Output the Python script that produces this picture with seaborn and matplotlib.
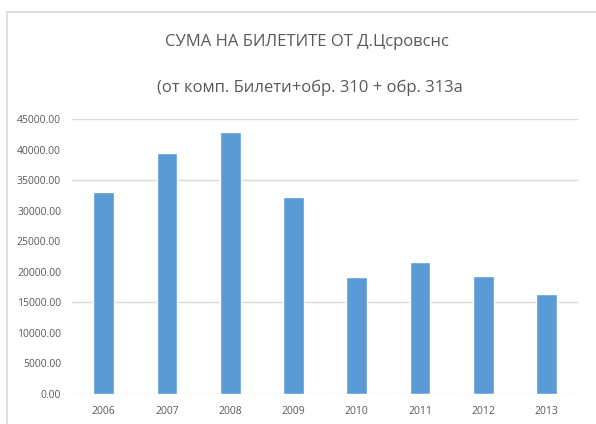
import numpy as np
import pandas as pd
import matplotlib
matplotlib.use('Agg')
import matplotlib.pyplot as plt
from matplotlib.lines import Line2D
import seaborn as sns

years = ['2006', '2007', '2008', '2009', '2010', '2011', '2012', '2013']
amounts = [33000, 39500, 42900, 32300, 19100, 21600, 19300, 16400]
y_ticks = [0, 5000, 10000, 15000, 20000, 25000, 30000, 35000, 40000, 45000]
grid_levels = [0, 15000, 35000, 45000]  # the gridlines visible in the picture

title = 'СУМА НА БИЛЕТИТЕ ОТ Д.Цсровснс'
subtitle = '(от комп. Билети+обр. 310 + обр. 313а'

sns.set_theme(style='white')
plt.rcParams['font.family'] = ['Open Sans', 'DejaVu Sans']

df = pd.DataFrame({'year': years, 'amount': amounts})

fig = plt.figure(figsize=(5.96, 4.24), dpi=100)
ax = fig.add_axes([0.121, 0.0708, 0.849, 0.6485])

for lvl in grid_levels:
    ax.axhline(lvl, color='#d9d9d9', lw=1, zorder=0)

sns.barplot(data=df, x='year', y='amount', color='#5B9BD5', width=0.33,
            saturation=1, ax=ax, zorder=2)

ax.set_ylim(0, 45000)
ax.set_yticks(y_ticks)
ax.set_yticklabels([f'{v:.2f}' for v in y_ticks])
ax.set_xlim(-0.5, len(years) - 0.5)
ax.set_xlabel('')
ax.set_ylabel('')
for s in ax.spines.values():
    s.set_visible(False)
ax.tick_params(axis='both', length=0, labelsize=7.5, colors='#595959')
ax.tick_params(axis='x', pad=9)
ax.tick_params(axis='y', pad=8)

fig.text(0.515, 0.90, title, ha='center', va='center', fontsize=12, color='#595959')
fig.text(0.52, 0.792, subtitle, ha='center', va='center', fontsize=12, color='#595959')

# chart frame (top and left edges only are visible)
fig.add_artist(Line2D([7/596, 1.0], [1 - 12/424, 1 - 12/424], color='#d9d9d9', lw=1.2,
                      transform=fig.transFigure))
fig.add_artist(Line2D([7/596, 7/596], [0.0, 1 - 12/424], color='#d9d9d9', lw=1.2,
                      transform=fig.transFigure))

fig.savefig('out.png', dpi=100)
